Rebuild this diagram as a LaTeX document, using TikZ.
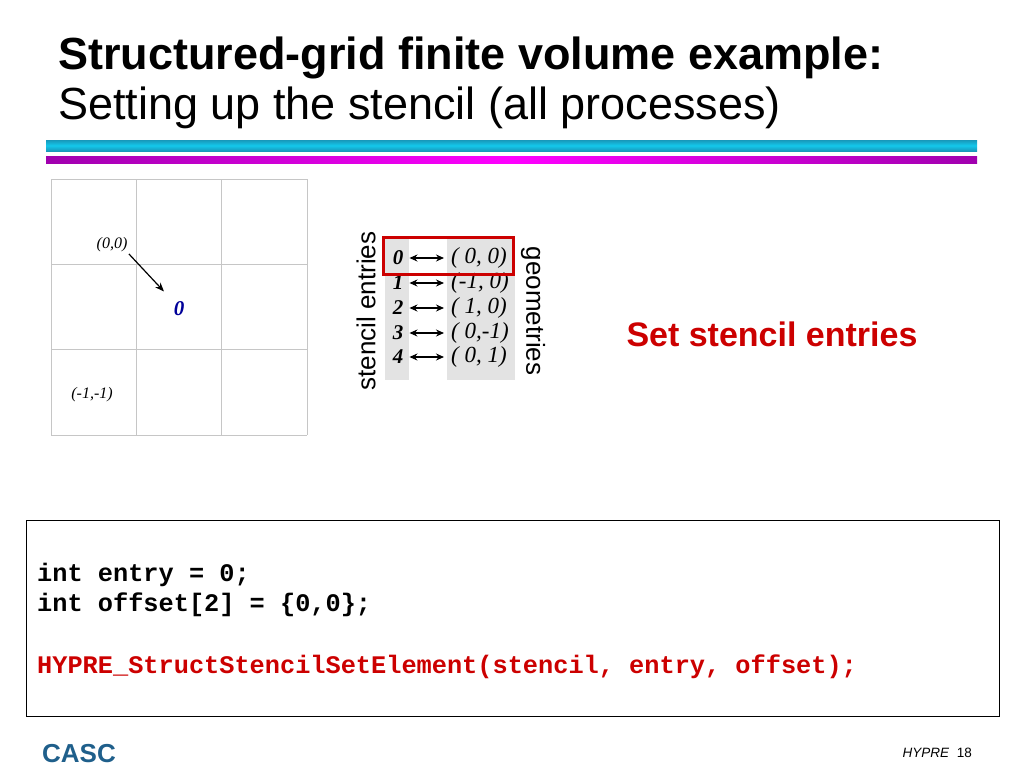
\documentclass[tikz,border=0pt]{standalone}
\usepackage{fontspec}
\setmainfont{Liberation Serif}
\setsansfont{Liberation Sans}
\setmonofont{Liberation Mono}
\usetikzlibrary{arrows.meta, positioning}

\definecolor{barcyan}{HTML}{14C8EC}
\definecolor{bardark}{HTML}{1898BA}
\definecolor{barmag}{HTML}{FF00FF}
\definecolor{barpurple}{HTML}{A000AE}
\definecolor{hred}{HTML}{CC0000}
\definecolor{cascblue}{HTML}{1F5F8B}
\definecolor{navyzero}{HTML}{000099}

\begin{document}
\begin{tikzpicture}[
    x=1pt, y=-1pt,
    title/.style={anchor=base west, inner sep=0pt, font=\fontsize{45}{50}\selectfont\sffamily},
    gridline/.style={draw=gray!45, line width=0.9pt},
    coordlabel/.style={inner sep=0pt, font=\fontsize{16}{18}\selectfont\itshape},
    entry/.style={inner sep=0pt, font=\fontsize{21}{24}\selectfont\bfseries\itshape},
    geom/.style={anchor=west, inner sep=0pt, font=\fontsize{23}{26}\selectfont\itshape},
    link/.style={{Stealth[length=8pt,width=7pt]}-{Stealth[length=8pt,width=7pt]}, line width=1.2pt, shorten <=6pt, shorten >=7pt},
    sidelabel/.style={inner sep=0pt, font=\fontsize{26}{30}\selectfont\sffamily},
    code/.style={anchor=base west, inner sep=0pt, font=\fontsize{25.3}{30}\selectfont\ttfamily\bfseries}
]
\useasboundingbox (0,0) rectangle (1024,768);

% Title
\node[title, font=\fontsize{45}{50}\selectfont\sffamily\bfseries] (head) at (58,70) {Structured-grid finite volume example:};
\node[title] (subhead) at (58,119) {Setting up the stencil (all processes)};

% Bars
\shade[top color=bardark, bottom color=bardark, middle color=barcyan] (46,140) rectangle (977,151);
\shade[left color=barpurple, right color=barpurple, middle color=barmag] (46,156) rectangle (977,163);

% Grid
\foreach \i in {0,...,3} {
    \draw[gridline] (51+85.33*\i,179) -- ++(0,256);
    \draw[gridline] (51,179+85.33*\i) -- ++(256,0);
}
\node[coordlabel] (origin) at (112,245) {(0,0)};
\node[inner sep=0pt, font=\fontsize{21}{24}\selectfont\bfseries\itshape, text=navyzero] (cellzero) at (179,309) {0};
\node[coordlabel] (lowleft) at (92,395) {(-1,-1)};
\draw[-{Stealth[length=9pt,width=7pt]}, line width=1.2pt, shorten <=2pt, shorten >=14pt] (origin.south east) -- (cellzero.north west);

% Stencil table
\fill[gray!22] (385,238) rectangle (409,380);
\fill[gray!22] (447,238) rectangle (515,380);
\node[entry] (e0) at (398,258) {0};
\node[entry] (e1) at (398,283) {1};
\node[entry] (e2) at (398,308) {2};
\node[entry] (e3) at (398,333) {3};
\node[entry] (e4) at (398,357) {4};
\node[geom] (g0) at (451,258) {( 0, 0)};
\node[geom] (g1) at (451,283) {(-1, 0)};
\node[geom] (g2) at (451,308) {( 1, 0)};
\node[geom] (g3) at (451,333) {( 0,-1)};
\node[geom] (g4) at (451,357) {( 0, 1)};
\foreach \k in {0,...,4}
    \draw[link] (e\k) -- (g\k);
\draw[hred, line width=3pt] (383,237) rectangle (513,274);
\node[sidelabel, rotate=90] (entrylabel) at (366,311) {stencil entries};
\node[sidelabel, rotate=-90] (geomlabel) at (533,311) {geometries};

\node[inner sep=0pt, font=\fontsize{34}{40}\selectfont\sffamily\bfseries, text=hred] (setlabel) at (772,334) {Set stencil entries};

% Code
\draw[line width=1pt] (26,520) rectangle (999,716);
\node[code] (line1) at (37,581) {int entry = 0;};
\node[code] (line2) at (37,611) {int offset[2] = \{0,0\};};
\node[code, text=hred] (line3) at (37,673) {HYPRE\_StructStencilSetElement(stencil, entry, offset);};

% Footer
\node[anchor=base west, inner sep=0pt, font=\fontsize{26}{30}\selectfont\sffamily\bfseries, text=cascblue] (casc) at (42,762) {CASC};
\node[anchor=base east, inner sep=0pt, font=\fontsize{13.5}{16}\selectfont\sffamily] (pagenum) at (972,757) {\textit{HYPRE}\ \ 18};

\end{tikzpicture}
\end{document}
